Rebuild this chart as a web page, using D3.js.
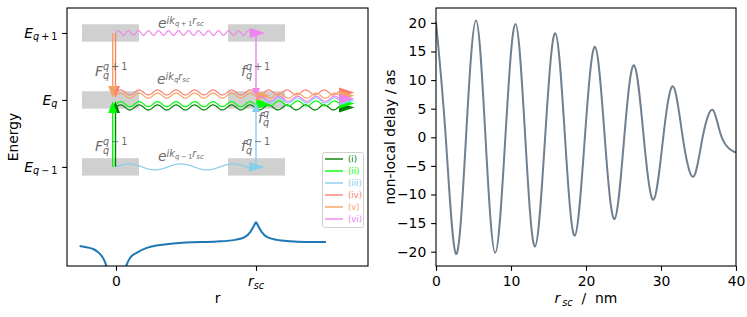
<!DOCTYPE html>
<html>
<head>
<meta charset="utf-8">
<script src="https://cdn.jsdelivr.net/npm/d3@7"></script>
<style>
body { margin: 0; background: #fff; }
svg { display: block; }
text { font-family: "DejaVu Sans", sans-serif; fill: #000; }
</style>
</head>
<body>
<svg id="drawing_region" width="747" height="317"></svg>
<script>
// ---- right panel data ----
const rscNm   = [0, 1.3, 2.67, 4.0, 5.33, 6.6, 7.9, 9.25, 10.6, 11.9, 13.2, 14.55, 15.9, 17.2, 18.5, 19.85,
                 21.2, 22.5, 23.8, 25.1, 26.4, 27.7, 29.0, 30.3, 31.6, 32.9, 34.3, 35.55, 36.9, 38.1, 39.7, 40];
const delayAs = [20.2, 0, -20.4, 0, 20.4, 0, -20.2, 0, 19.8, 0, -19.1, 0, 18.2, 0, -17.2, 0,
                 15.8, 0, -14.3, 0, 12.6, 0, -10.9, 0, 8.9, 0, -6.9, 0, 4.8, 0, -2.5, -2.4];
const xTicksR = [0, 10, 20, 30, 40];
const yTicksR = [-20, -15, -10, -5, 0, 5, 10, 15, 20];

// ---- left panel (schematic) ----
const levelValues = [1, 0, -1];
const levelSubs   = ['\u2009+\u20091', '', '\u2009\u2212\u20091'];
const potLeft  = [[-0.26, -2.18], [-0.21, -2.2], [-0.16, -2.23], [-0.13, -2.27], [-0.11, -2.31],
                  [-0.09, -2.37], [-0.07, -2.47], [-0.055, -2.58]];
const potRight = [[0.055, -2.58], [0.074, -2.47], [0.1, -2.36], [0.15, -2.28], [0.22, -2.21],
                  [0.3, -2.17], [0.36, -2.155], [0.5, -2.13], [0.72, -2.115], [0.85, -2.09],
                  [0.92, -2.05], [0.96, -1.97], [1.0, -1.82]];
const potTail  = [[1.0, -1.82], [1.04, -1.97], [1.08, -2.05], [1.15, -2.09], [1.24, -2.11],
                  [1.35, -2.12], [1.5, -2.12]];
const pathwayLabels = ['(i)', '(ii)', '(iii)', '(iv)', '(v)', '(vi)'];
const pathwayColors = ['green', 'lime', 'skyblue', 'salmon', 'sandybrown', 'violet'];

const FS = 13.9;
const svg = d3.select('#drawing_region');

// helper: text made of tspans (math-like labels)
function rich(g, x, y, parts, anchor) {
    const t = g.append('text').attr('x', x).attr('y', y)
        .attr('text-anchor', anchor || 'start');
    let cur = 0, lastW = 0;
    parts.forEach(p => {
        if (!p.t) return;
        const sp = t.append('tspan')
            .attr('font-size', FS * (p.s || 1))
            .attr('font-style', p.it ? 'italic' : 'normal')
            .attr('dy', (p.dy || 0) - cur)
            .text(p.t);
        if (p.stack) sp.attr('dx', -lastW);
        cur = p.dy || 0;
        lastW = sp.node().getComputedTextLength();
    });
    return t;
}

function styleAxis(g) {
    g.select('.domain').remove();
    g.selectAll('.tick line').attr('stroke', '#000').attr('stroke-width', 1.1);
    g.selectAll('.tick text').attr('font-size', FS).attr('font-family', '"DejaVu Sans", sans-serif').attr('fill', '#000');
}

// ================= LEFT PANEL =================
const L = {left: 67, right: 368, top: 8, bottom: 266};
const xL = d3.scaleLinear().domain([-0.35, 1.8]).range([L.left, L.right]);
const yL = d3.scaleLinear().domain([-2.48, 1.373]).range([L.bottom, L.top]);
const left = svg.append('g');

svg.append('defs').append('clipPath').attr('id', 'clipL')
    .append('rect').attr('x', L.left).attr('y', L.top)
    .attr('width', L.right - L.left).attr('height', L.bottom - L.top);

// grey level boxes
levelValues.forEach(v => {
    [[-0.243, 0.164], [0.8, 1.207]].forEach(([a, b]) => {
        left.append('rect')
            .attr('x', xL(a)).attr('y', yL(v + 0.13))
            .attr('width', xL(b) - xL(a)).attr('height', yL(v - 0.13) - yL(v + 0.13))
            .attr('fill', '#d0d0d0');
    });
});

// potential curve
const potLine = d3.line().x(d => xL(d[0])).y(d => yL(d[1])).curve(d3.curveMonotoneX);
const potG = left.append('g').attr('clip-path', 'url(#clipL)');
[potLeft, potRight, potTail].forEach(arr => {
    potG.append('path').attr('d', potLine(arr))
        .attr('fill', 'none').attr('stroke', '#1f77b4').attr('stroke-width', 2);
});

// arrows
const farR = 1.593;
function wavy(x0, x1, yc, lambda, amp) {
    const pts = [];
    for (let x = x0; x <= x1 + 0.01; x += 0.5) {
        pts.push([x, yc - amp * Math.sin(2 * Math.PI * (x - x0) / lambda)]);
    }
    return d3.line()(pts);
}
function headH(x0, x1, y, hw, color) {
    left.append('path').attr('d', `M${x0},${y - hw}L${x1},${y}L${x0},${y + hw}Z`).attr('fill', color);
}
function headV(x, y0, y1, hw, color) {
    left.append('path').attr('d', `M${x - hw},${y0}L${x},${y1}L${x + hw},${y0}Z`).attr('fill', color);
}

// vertical transitions: [pathway, r, fromLevel, xOffsetPx, headBase, headTip, halfWidth]
const verts = [
    [0, 0, -1, -0.5, 13, 1, 4.5],
    [1, 0, -1, -3.3, 13, 1, 4.5],
    [2, 1, -1, 0, 12, 2, 4],
    [3, 0, 1, -0.5, -14, -2, 4.5],
    [4, 0, 1, -3.3, -14, -2, 4.5],
    [5, 1, 1, 0, -12, -4, 4]
];
// horizontal wavy propagation: [pathway, r0, r1, level, dyPx, wavelengthPx, ampPx]
const waves = [
    [0, 0, farR, 0, 7.5, 18.5, 2.5],
    [1, 0, 1, 0, 4.2, 18.5, 2.5],
    [1, 1, farR, 0, 3.5, 18.5, 2.5],
    [2, 0, 0.95, -1, 0, 52, 3],
    [2, 1, farR, 0, 0.5, 18.5, 2.5],
    [3, 0, farR, 0, -7.5, 18.5, 2.5],
    [4, 0, 1, 0, -4.3, 18.5, 2.5],
    [4, 1, farR, 0, -4.3, 18.5, 2.5],
    [5, 0, 0.955, 1, 0, 10, 2.3],
    [5, 1, farR, 0, -1.2, 18.5, 2.5]
];

pathwayColors.forEach((color, i) => {
    verts.filter(v => v[0] === i).forEach(([, r, from, dx, hb, ht, hw]) => {
        const x = xL(r) + dx;
        const yEnd = yL(0) + hb;
        left.append('line').attr('x1', x).attr('x2', x)
            .attr('y1', yL(from)).attr('y2', yEnd)
            .attr('stroke', color).attr('stroke-width', 1.4);
        headV(x, yEnd, yL(0) + ht, hw, color);
    });
    waves.filter(w => w[0] === i).forEach(([, r0, r1, lev, dy, lam, amp]) => {
        const y = yL(lev) + dy;
        const x0 = xL(r0), x1 = xL(r1);
        left.append('path').attr('d', wavy(x0, x1, y, lam, amp))
            .attr('fill', 'none').attr('stroke', color).attr('stroke-width', 1.2);
        const len = (r1 === 1 && lev === 0) ? 14 : 15.5;
        headH(x1, x1 + len, y, 5, color);
    });
});

// grey labels
const lab = left.append('g').attr('class', 'lab');
function eLabel(x, y, sub) {
    rich(lab, x, y, [
        {t: 'e', it: true},
        {t: 'ik', it: true, s: 0.7, dy: -4.5},
        {t: 'q', it: true, s: 0.5, dy: -2},
        {t: sub, it: false, s: 0.5, dy: -2},
        {t: 'r', it: true, s: 0.7, dy: -4.5},
        {t: 'sc', it: true, s: 0.5, dy: -2}
    ]);
}
eLabel(158, 28, '\u2009+\u20091');
eLabel(157, 84, '');
eLabel(158, 161, '\u2009\u2212\u20091');

function fLabel(x, y, base, sup) {
    rich(lab, x, y, [
        {t: base, it: true},
        {t: 'q', it: true, s: 0.7, dy: 2.5},
        {t: 'q', it: true, s: 0.7, dy: -6.5, stack: true},
        {t: sup, it: false, s: 0.7, dy: -6.5}
    ]);
}
fLabel(95, 76, 'F', '\u2009+\u20091');
fLabel(95, 151, 'F', '\u2009\u2212\u20091');
fLabel(241, 76, 'f', '\u2009+\u20091');
fLabel(241, 151, 'f', '\u2009\u2212\u20091');
fLabel(258, 123, 'f', '');
lab.selectAll('text').style('fill', '#6b6b6b');

// legend
const leg = left.append('g');
leg.append('rect').attr('x', 322.5).attr('y', 152.5).attr('width', 41).attr('height', 75)
    .attr('rx', 2).attr('fill', '#fff').attr('fill-opacity', 0.8)
    .attr('stroke', '#d0d0d0').attr('stroke-width', 1);
pathwayLabels.forEach((lbl, i) => {
    const y = 159 + i * 12;
    leg.append('line').attr('x1', 325).attr('x2', 343).attr('y1', y).attr('y2', y)
        .attr('stroke', pathwayColors[i]).attr('stroke-width', 1.4);
    leg.append('text').attr('x', 348).attr('y', y + 3).attr('font-size', 8.5)
        .style('fill', pathwayColors[i]).text(lbl);
});

// frame + axes
left.append('rect').attr('x', L.left).attr('y', L.top)
    .attr('width', L.right - L.left).attr('height', L.bottom - L.top)
    .attr('fill', 'none').attr('stroke', '#000').attr('stroke-width', 1.1);

const xAxisL = left.append('g').attr('transform', `translate(0,${L.bottom})`)
    .call(d3.axisBottom(xL).tickValues([0, 1]).tickSize(4.86).tickPadding(4.86)
        .tickFormat(d => d === 0 ? '0' : ''));
styleAxis(xAxisL);
rich(left, xL(1), 286, [{t: 'r', it: true}, {t: 'sc', it: true, s: 0.7, dy: 2.5}], 'middle');

const yAxisL = left.append('g').attr('transform', `translate(${L.left},0)`)
    .call(d3.axisLeft(yL).tickValues(levelValues).tickSize(4.86).tickFormat(''));
styleAxis(yAxisL);
levelValues.forEach((v, i) => {
    rich(left, 57.5, yL(v) + 5, [
        {t: 'E', it: true},
        {t: 'q', it: true, s: 0.7, dy: 2.5},
        {t: levelSubs[i], it: false, s: 0.7, dy: 2.5}
    ], 'end');
});

left.append('text').attr('x', (L.left + L.right) / 2).attr('y', 303)
    .attr('text-anchor', 'middle').attr('font-size', FS).text('r');
left.append('text').attr('transform', `translate(18,${(L.top + L.bottom) / 2}) rotate(-90)`)
    .attr('text-anchor', 'middle').attr('font-size', FS).text('Energy');

// ================= RIGHT PANEL =================
const R = {left: 436, right: 736, top: 8, bottom: 266};
const xR = d3.scaleLinear().domain([0, 40]).range([R.left, R.right]);
const yR = d3.scaleLinear().domain([-22.5, 22.6]).range([R.bottom, R.top]);
const right = svg.append('g');

svg.select('defs').append('clipPath').attr('id', 'clipR')
    .append('rect').attr('x', R.left).attr('y', R.top)
    .attr('width', R.right - R.left).attr('height', R.bottom - R.top);

const delayData = rscNm.map((r, i) => ({r: r, v: delayAs[i]}));
const delayLine = d3.line().x(d => xR(d.r)).y(d => yR(d.v)).curve(d3.curveNatural);
right.append('path').attr('clip-path', 'url(#clipR)')
    .attr('d', delayLine(delayData))
    .attr('fill', 'none').attr('stroke', 'slategray').attr('stroke-width', 2);

right.append('rect').attr('x', R.left).attr('y', R.top)
    .attr('width', R.right - R.left).attr('height', R.bottom - R.top)
    .attr('fill', 'none').attr('stroke', '#000').attr('stroke-width', 1.1);

const xAxisR = right.append('g').attr('transform', `translate(0,${R.bottom})`)
    .call(d3.axisBottom(xR).tickValues(xTicksR).tickSize(4.86).tickPadding(4.86));
styleAxis(xAxisR);
const yAxisR = right.append('g').attr('transform', `translate(${R.left},0)`)
    .call(d3.axisLeft(yR).tickValues(yTicksR).tickSize(4.86).tickPadding(4.86));
styleAxis(yAxisR);

rich(right, (R.left + R.right) / 2, 303, [
    {t: 'r', it: true},
    {t: '\u2009sc', it: true, s: 0.7, dy: 3},
    {t: '\u00a0\u00a0/\u00a0\u00a0nm', it: false, dy: 0}
], 'middle');
right.append('text').attr('transform', `translate(395,${(R.top + R.bottom) / 2}) rotate(-90)`)
    .attr('text-anchor', 'middle').attr('font-size', FS).text('non-local delay / as');
</script>
</body>
</html>
